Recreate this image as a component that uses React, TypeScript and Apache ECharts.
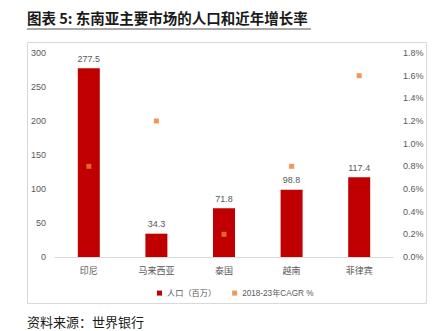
import React, { useEffect, useRef } from "react";
import * as echarts from "echarts";

const categories = ["印尼", "马来西亚", "泰国", "越南", "菲律宾"];
const population = [277.5, 34.3, 71.8, 98.8, 117.4];
const cagr = [0.8, 1.2, 0.2, 0.8, 1.6];
const leftTicks = [0, 50, 100, 150, 200, 250, 300];
const rightTicks = [0, 0.2, 0.4, 0.6, 0.8, 1.0, 1.2, 1.4, 1.6, 1.8];

const FONT = "'Liberation Sans', 'Noto Sans CJK SC', sans-serif";
const CJK = "'Noto Sans CJK SC', sans-serif";

export default function App() {
  const ref = useRef<HTMLDivElement>(null);
  useEffect(() => {
    const chart = echarts.init(ref.current!, undefined, { renderer: "svg" });
    chart.setOption({
      animation: false,
      backgroundColor: "#ffffff",
      textStyle: { fontFamily: FONT },
      graphic: [
        {
          type: "text",
          left: 27,
          top: 10,
          style: {
            text: "图表 5: 东南亚主要市场的人口和近年增长率",
            font: `bold 14.5px ${CJK}`,
            fill: "#1a1a1a",
          },
        },
        {
          type: "line",
          shape: { x1: 27, y1: 29, x2: 311, y2: 29 },
          style: { stroke: "#8c8c8c", lineWidth: 1.5 },
        },
        {
          type: "rect",
          shape: { x: 27.5, y: 42.5, width: 399, height: 261 },
          style: { fill: "none", stroke: "#d9d9d9", lineWidth: 1 },
          silent: true,
        },
        {
          type: "text",
          left: 27,
          top: 315,
          style: {
            text: "资料来源：世界银行",
            font: `13px ${CJK}`,
            fill: "#1a1a1a",
          },
        },
      ],
      legend: {
        left: 152,
        top: 284,
        itemWidth: 5,
        itemHeight: 5,
        itemGap: 16,
        textStyle: { fontSize: 8.2, color: "#595959", fontFamily: FONT },
        data: [
          { name: "人口（百万）", icon: "rect" },
          { name: "2018-23年CAGR %", icon: "rect" },
        ],
      },
      grid: { left: 55, right: 49, top: 53, bottom: 74, containLabel: false },
      xAxis: {
        type: "category",
        data: categories,
        axisLine: { lineStyle: { color: "#d9d9d9" } },
        axisTick: { show: false },
        axisLabel: { color: "#595959", fontSize: 9, margin: 9 },
      },
      yAxis: [
        {
          type: "value",
          min: leftTicks[0],
          max: leftTicks[leftTicks.length - 1],
          interval: 50,
          splitLine: { show: false },
          axisLine: { show: false },
          axisTick: { show: false },
          axisLabel: { color: "#595959", fontSize: 9, margin: 9 },
        },
        {
          type: "value",
          min: rightTicks[0],
          max: rightTicks[rightTicks.length - 1],
          interval: 0.2,
          splitLine: { show: false },
          axisLine: { show: false },
          axisTick: { show: false },
          axisLabel: {
            color: "#595959",
            fontSize: 9,
            margin: 10,
            formatter: (v: number) => v.toFixed(1) + "%",
          },
        },
      ],
      series: [
        {
          name: "人口（百万）",
          type: "bar",
          data: population,
          barWidth: 22,
          itemStyle: { color: "#c00000" },
          label: {
            show: true,
            position: "top",
            distance: 5,
            color: "#595959",
            fontSize: 9,
            formatter: (p: any) => p.value.toFixed(1),
          },
        },
        {
          name: "2018-23年CAGR %",
          type: "scatter",
          yAxisIndex: 1,
          data: cagr,
          symbol: "rect",
          symbolSize: 5,
          itemStyle: { color: "#ed7d31" },
          z: 5,
        },
      ],
    });
    return () => chart.dispose();
  }, []);
  return (
    <div
      ref={ref}
      style={{ position: "fixed", left: 0, top: 0, width: 442, height: 331 }}
    />
  );
}
